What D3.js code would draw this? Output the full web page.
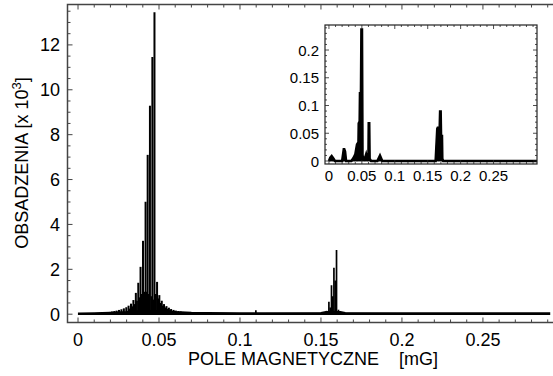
<!DOCTYPE html>
<html>
<head>
<meta charset="utf-8">
<script src="https://cdn.jsdelivr.net/npm/d3@7"></script>
<style>
  html, body { margin: 0; padding: 0; background: #fff; }
  svg { display: block; font-family: "Liberation Sans", Arial, sans-serif; }
</style>
</head>
<body>
<svg id="chart" width="553" height="376"></svg>
<script>
// Main comb of resonance lines: field [mG] and occupation [x 10^3]
const combX = [0.0016,0.0031,0.0046,0.0060,0.0075,0.0090,0.0105,0.0120,0.0135,0.0149,
  0.0164,0.0179,0.0194,0.0209,0.0224,0.0238,0.0253,0.0268,0.0283,0.0298,0.0312,0.0327,
  0.0342,0.0357,0.0372,0.0386,0.0401,0.0417,0.0430,0.0444,0.0459,0.0472,0.0488,0.0502,
  0.0517,0.0531,0.0546,0.0561,0.0575,0.0590,0.0604,0.0619,0.0634,0.0649,0.0664,0.0678,0.0693];
const combY = [0.03,0.03,0.035,0.035,0.04,0.04,0.045,0.05,0.06,0.07,
  0.08,0.09,0.10,0.12,0.14,0.16,0.19,0.22,0.26,0.31,0.38,0.47,
  0.63,0.95,1.40,2.11,3.27,5.01,7.10,9.29,11.46,13.45,1.44,0.85,
  0.60,0.45,0.36,0.29,0.23,0.19,0.16,0.14,0.12,0.10,0.09,0.08,0.07];

// Interleaved lower lines around the main peak
const sideX = [0.0320,0.0335,0.0349,0.0364,0.0379,0.0394,0.0409,0.0423,0.0437,0.0452,0.0466,
  0.0480,0.0495,0.0510,0.0524,0.0539,0.0553,0.0568];
const sideY = [0.25,0.35,0.45,0.60,0.75,0.90,1.00,1.00,0.90,0.80,0.65,0.90,0.70,0.50,0.38,0.30,0.24,0.20];

// Second group near 0.16 mG plus a small line at 0.11 mG
const groupX = [0.1098,0.1519,0.1535,0.1549,0.1557,0.1565,0.1573,0.1580,0.1588,0.1596,0.1608,0.1620];
const groupY = [0.18,0.10,0.15,0.55,0.30,1.29,0.80,2.07,1.50,2.86,0.20,0.10];

// Background level across the whole field range
const floorX = [0.0005,0.01,0.02,0.03,0.04,0.05,0.06,0.07,0.08,0.10,0.108,0.112,0.15,0.153,0.162,0.165,0.20,0.25,0.291];
const floorY = [0.04,0.05,0.07,0.10,0.15,0.15,0.10,0.07,0.06,0.05,0.05,0.05,0.06,0.10,0.10,0.06,0.05,0.05,0.05];

// Inset: normalised distribution
const insetX = [0,0.002,0.0041,0.007,0.009,0.020,0.0225,0.0233,0.0245,0.026,0.034,0.037,0.040,
  0.0426,0.0448,0.0452,0.0460,0.0466,0.0471,0.0478,0.0486,0.0493,0.0502,0.0510,0.0525,0.055,
  0.0565,0.0573,0.0600,0.0604,0.0612,0.0618,0.064,0.0735,0.0775,0.081,0.162,0.1645,0.1652,
  0.1682,0.1688,0.1697,0.1703,0.1717,0.1722,0.1735,0.316];
const insetY = [0,0.006,0.009,0.004,0,0,0.021,0.021,0.017,0,0,0.005,0.012,
  0.030,0.034,0.068,0.070,0.070,0.122,0.122,0.122,0.237,0.237,0.010,0.004,0.006,
  0.012,0.008,0.010,0.068,0.068,0.004,0,0,0.010,0,0,0.058,0.060,
  0.060,0.089,0.089,0.045,0.045,0.004,0,0];

const xMajor = [0,0.05,0.1,0.15,0.2,0.25];
const xMajorLabels = ["0","0.05","0.1","0.15","0.2","0.25"];
const yMajor = [0,2,4,6,8,10,12];
const insetYMajor = [0,0.05,0.1,0.15,0.2];
const insetYLabels = ["0","0.05","0.1","0.15","0.2"];

const svg = d3.select("#chart");
const frameColor = "#444";

// ---------- main panel ----------
const M = {left: 67.5, right: 555, top: 4.5, bottom: 322.5};
const x = d3.scaleLinear().domain([-0.0065, 0.2945]).range([M.left, M.right]);
const y = d3.scaleLinear().domain([-0.37, 13.8]).range([M.bottom, M.top]);

const main = svg.append("g");

// background level
main.append("path")
  .datum(floorX.map((v, i) => [v, floorY[i]]))
  .attr("d", d3.area().x(d => x(d[0])).y0(y(0)).y1(d => y(d[1])))
  .attr("fill", "#000").attr("stroke", "#000").attr("stroke-width", 1.8);

function drawLines(xs, ys, width) {
  main.append("g").selectAll("line")
    .data(xs.map((v, i) => [v, ys[i]]))
    .join("line")
    .attr("x1", d => x(d[0])).attr("x2", d => x(d[0]))
    .attr("y1", y(0)).attr("y2", d => y(d[1]))
    .attr("stroke", "#000").attr("stroke-width", width);
}
drawLines(sideX, sideY, 1.8);
drawLines(combX, combY, 2);
drawLines(groupX, groupY, 1.7);

// frame
main.append("path")
  .attr("d", `M${M.right},${M.top}H${M.left}V${M.bottom}H${M.right}`)
  .attr("fill", "none").attr("stroke", frameColor).attr("stroke-width", 1.5);

// ticks (pointing inward)
const xMinor = d3.range(0, 0.295, 0.01);
const yMinor = d3.range(0, 13.6, 0.5);
const tickG = main.append("g").attr("stroke", frameColor).attr("stroke-width", 1);
xMinor.forEach(v => {
  const isMaj = xMajor.some(m => Math.abs(m - v) < 1e-6);
  const L = isMaj ? 5 : 3;
  tickG.append("line").attr("x1", x(v)).attr("x2", x(v)).attr("y1", M.bottom).attr("y2", M.bottom - L);
  tickG.append("line").attr("x1", x(v)).attr("x2", x(v)).attr("y1", M.top).attr("y2", M.top + L);
});
yMinor.forEach(v => {
  const isMaj = yMajor.includes(v);
  const L = isMaj ? 5 : 3;
  tickG.append("line").attr("y1", y(v)).attr("y2", y(v)).attr("x1", M.left).attr("x2", M.left + L);
});

// tick labels
main.append("g").selectAll("text").data(xMajor).join("text")
  .attr("x", d => x(d)).attr("y", 346)
  .attr("text-anchor", "middle").attr("font-size", 18).attr("fill", "#000")
  .text((d, i) => xMajorLabels[i]);
main.append("g").selectAll("text").data(yMajor).join("text")
  .attr("x", 60).attr("y", d => y(d) + 6.5)
  .attr("text-anchor", "end").attr("font-size", 18).attr("fill", "#000")
  .text(d => d);

// axis titles
main.append("text").attr("x", 313).attr("y", 365)
  .attr("text-anchor", "middle").attr("font-size", 18).attr("fill", "#000")
  .attr("xml:space", "preserve")
  .text("POLE MAGNETYCZNE    [mG]");
const yt = main.append("text")
  .attr("transform", "translate(28,163) rotate(-90)")
  .attr("text-anchor", "middle").attr("font-size", 18).attr("fill", "#000");
yt.append("tspan").text("OBSADZENIA [x 10");
yt.append("tspan").attr("dy", -7).attr("font-size", 13).text("3");
yt.append("tspan").attr("dy", 7).text("]");

// ---------- inset panel ----------
const I = {left: 325, right: 537, top: 25, bottom: 164};
const ix = d3.scaleLinear().domain([-0.006, 0.316]).range([I.left, I.right]);
const iy = d3.scaleLinear().domain([-0.0054, 0.2451]).range([I.bottom, I.top]);

const inset = svg.append("g");
inset.append("rect").attr("x", I.left).attr("y", I.top)
  .attr("width", I.right - I.left).attr("height", I.bottom - I.top).attr("fill", "#fff");

inset.append("path")
  .datum(insetX.map((v, i) => [v, insetY[i]]))
  .attr("d", d3.area().x(d => ix(d[0])).y0(iy(0)).y1(d => iy(d[1])))
  .attr("fill", "#000").attr("stroke", "#000").attr("stroke-width", 1);
inset.append("path")
  .datum(insetX.map((v, i) => [v, insetY[i]]))
  .attr("d", d3.line().x(d => ix(d[0])).y(d => iy(d[1])))
  .attr("fill", "none").attr("stroke", "#000").attr("stroke-width", 2.5);

inset.append("rect").attr("x", I.left).attr("y", I.top)
  .attr("width", I.right - I.left).attr("height", I.bottom - I.top)
  .attr("fill", "none").attr("stroke", "#222").attr("stroke-width", 1.2);

const itG = inset.append("g").attr("stroke", "#222").attr("stroke-width", 0.8);
d3.range(0, 0.316, 0.01).forEach(v => {
  const isMaj = xMajor.some(m => Math.abs(m - v) < 1e-6);
  const L = isMaj ? 4 : 2;
  itG.append("line").attr("x1", ix(v)).attr("x2", ix(v)).attr("y1", I.bottom).attr("y2", I.bottom - L);
  itG.append("line").attr("x1", ix(v)).attr("x2", ix(v)).attr("y1", I.top).attr("y2", I.top + L);
});
d3.range(0, 0.245, 0.01).forEach(v => {
  const isMaj = insetYMajor.some(m => Math.abs(m - v) < 1e-6);
  const L = isMaj ? 4 : 2;
  itG.append("line").attr("y1", iy(v)).attr("y2", iy(v)).attr("x1", I.left).attr("x2", I.left + L);
  itG.append("line").attr("y1", iy(v)).attr("y2", iy(v)).attr("x1", I.right).attr("x2", I.right - L);
});

inset.append("g").selectAll("text").data(xMajor).join("text")
  .attr("x", d => ix(d)).attr("y", 181)
  .attr("text-anchor", "middle").attr("font-size", 15).attr("fill", "#000")
  .text((d, i) => xMajorLabels[i]);
inset.append("g").selectAll("text").data(insetYMajor).join("text")
  .attr("x", 319).attr("y", d => iy(d) + 5.5)
  .attr("text-anchor", "end").attr("font-size", 15).attr("fill", "#000")
  .text((d, i) => insetYLabels[i]);
</script>
</body>
</html>
